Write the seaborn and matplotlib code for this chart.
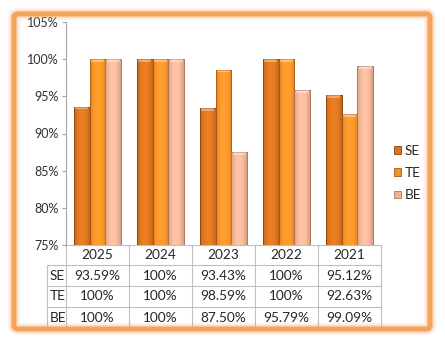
import numpy as np
import pandas as pd
import matplotlib
matplotlib.use("Agg")
import matplotlib.pyplot as plt
import seaborn as sns
from matplotlib.transforms import blended_transform_factory
from matplotlib.patches import FancyBboxPatch, Rectangle
from matplotlib.lines import Line2D
from matplotlib.colors import to_rgb

years = ["2025", "2024", "2023", "2022", "2021"]
series = ["SE", "TE", "BE"]
se_vals = [93.59, 100, 93.43, 100, 95.12]
te_vals = [100, 100, 98.59, 100, 92.63]
be_vals = [100, 100, 87.50, 95.79, 99.09]
yticks = [75, 80, 85, 90, 95, 100, 105]

colors = {"SE": "#D8731F", "TE": "#F59129", "BE": "#EDB395"}
edges = {"SE": "#8A4410", "TE": "#A85A12", "BE": "#B07860"}

vals = {"SE": se_vals, "TE": te_vals, "BE": be_vals}
df = pd.DataFrame([(y, s, vals[s][i]) for s in series for i, y in enumerate(years)],
                  columns=["year", "series", "value"])

sns.set_style("white")
plt.rcParams["font.family"] = ["Lato", "DejaVu Sans"]

W, H = 445, 343
fig = plt.figure(figsize=(W / 100, H / 100), dpi=100)
fig.patch.set_facecolor("white")

# orange frame with glow
for lw, a in [(9, 0.12), (6, 0.3), (3.5, 1.0)]:
    fig.patches.append(FancyBboxPatch((14 / W, 14 / H), (430 - 14) / W, (329 - 14) / H,
                                      boxstyle="round,pad=0,rounding_size=0.01",
                                      transform=fig.transFigure, fill=False,
                                      edgecolor="#F4A35E", linewidth=lw, alpha=a, zorder=0))

ax_l, ax_r, ax_t, ax_b = 66, 381, 22, 245
ax = fig.add_axes([ax_l / W, (H - ax_b) / H, (ax_r - ax_l) / W, (ax_b - ax_t) / H])
ax.set_facecolor("none")

sns.barplot(data=df, x="year", y="value", hue="series", order=years, hue_order=series,
            palette=colors, width=0.75, gap=0, saturation=1, ax=ax, legend=False,
            linewidth=0.6)

ax.set_ylim(75, 105)
ax.set_xlim(-0.5, 4.5)

# cylinder-like shading and edge colors
shade = 0.78 + 0.32 * np.sin(np.linspace(0.15, np.pi - 0.15, 40)) ** 0.6
for s, cont in zip(series, ax.containers):
    base = np.array(to_rgb(colors[s]))
    grad = np.clip(base[None, :] * shade[:, None], 0, 1)[None, :, :]
    for p in cont.patches:
        p.set_edgecolor(edges[s])
        x0 = p.get_x(); w = p.get_width(); top = p.get_height()
        im = ax.imshow(grad, extent=[x0, x0 + w, 75, top], aspect="auto", zorder=p.get_zorder() + 0.1,
                       interpolation="bicubic")
        im.set_clip_path(p)
        ax.add_patch(Rectangle((x0, 75), w, top - 75, fill=False, edgecolor=edges[s],
                               linewidth=0.6, zorder=p.get_zorder() + 0.2))
        ax.add_patch(Rectangle((x0 + w * 0.1, top - 0.35), w * 0.8, 0.35, facecolor="white",
                               alpha=0.35, edgecolor="none", zorder=p.get_zorder() + 0.3))

ax.set_yticks(yticks)
ax.set_yticklabels([f"{t}%" for t in yticks], fontsize=9, color="#303030")
ax.set_xticks([])
ax.set_xlabel("")
ax.set_ylabel("")
for sp in ["top", "right", "bottom"]:
    ax.spines[sp].set_visible(False)
ax.spines["left"].set_color("#A6A6A6")
ax.spines["left"].set_linewidth(0.8)
ax.tick_params(axis="y", which="both", left=True, length=3, color="#A6A6A6", pad=2)

# data table
tr = blended_transform_factory(ax.transData, ax.transAxes)
ah = ax_b - ax_t
aw = ax_r - ax_l
rows_px = [0, 20, 41, 62, 83]
ry = [-r / ah for r in rows_px]
lbl_x = -(ax_l - 47) / aw
line_kw = dict(color="#BFBFBF", linewidth=0.8, clip_on=False)

ax.add_line(Line2D([-0.5, 4.5], [0, 0], transform=tr, **line_kw))
for y in ry[1:]:
    ax.add_line(Line2D([lbl_x, 1], [y, y], transform=ax.transAxes, **line_kw))
for i in range(len(years) + 1):
    ax.add_line(Line2D([i - 0.5, i - 0.5], [0, ry[-1]], transform=tr, **line_kw))
ax.add_line(Line2D([lbl_x, lbl_x], [ry[1], ry[-1]], transform=ax.transAxes, **line_kw))

txt_kw = dict(fontsize=9.8, color="#262626", va="center", clip_on=False)
for i, y in enumerate(years):
    ax.text(i, (ry[0] + ry[1]) / 2, y, transform=tr, ha="center", **txt_kw)
for r, s in enumerate(series):
    yc = (ry[r + 1] + ry[r + 2]) / 2
    ax.text(lbl_x + 3 / aw, yc, s, transform=ax.transAxes, ha="left", **txt_kw)
    for i, v in enumerate(vals[s]):
        t = "100%" if v == 100 else f"{v:.2f}%"
        ax.text(i, yc, t, transform=tr, ha="center", **txt_kw)

# legend
handles = [Rectangle((0, 0), 1, 1, facecolor=colors[s], edgecolor=edges[s], linewidth=0.6)
           for s in series]
fig.legend(handles, series, loc="upper left", bbox_to_anchor=(387 / W, 1 - 138 / H),
           frameon=False, fontsize=9.8, handlelength=0.5, handleheight=0.5,
           handletextpad=0.3, labelspacing=0.75, borderpad=0)

fig.savefig("out.png", dpi=100)
